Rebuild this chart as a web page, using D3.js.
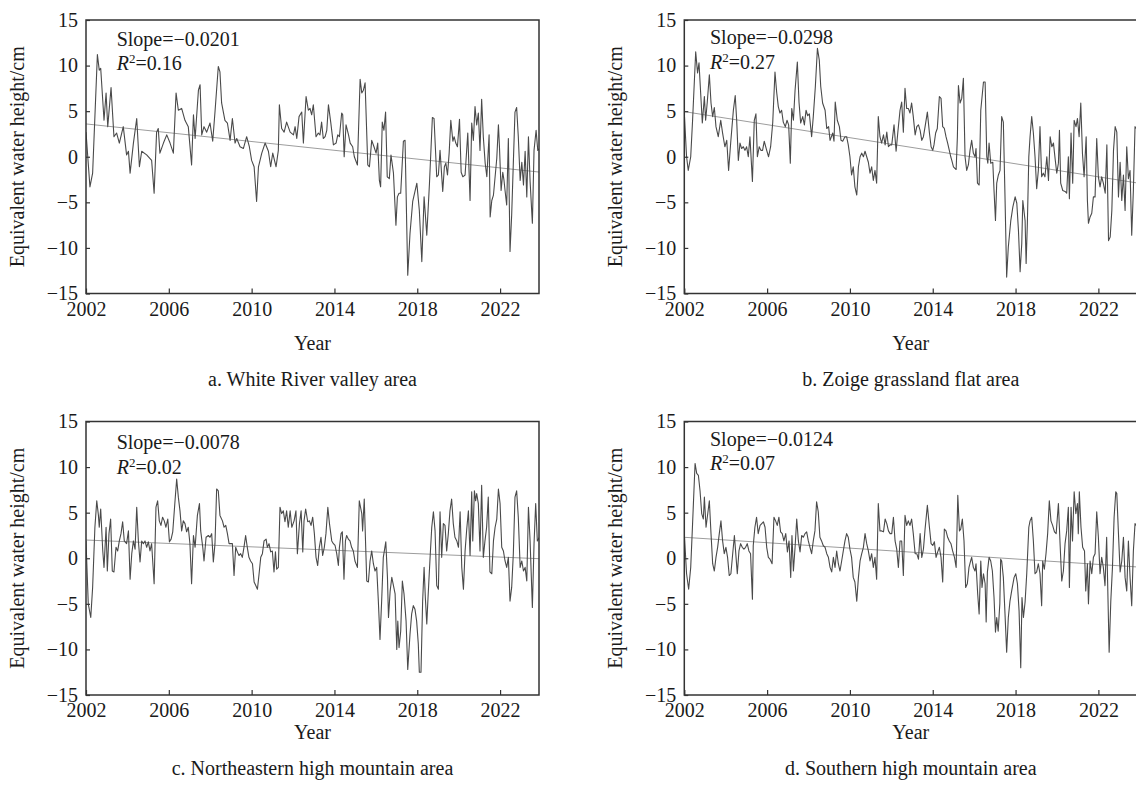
<!DOCTYPE html>
<html>
<head>
<meta charset="utf-8">
<script src="https://cdn.jsdelivr.net/npm/d3@7"></script>
<style>
  body { margin: 0; background: #fff; }
  text { font-family: "Liberation Serif", "Times New Roman", serif; fill: #1a1a1a; }
</style>
</head>
<body>
<svg id="chart" width="1136" height="787"></svg>
<script>
// Equivalent water height anomalies, [years since Jan 2002, cm]
const whiteRiverValley = [[0,2.7],[0.19,-3.3],[0.32,-1.8],[0.55,11.2],[0.64,9.5],[0.71,9.7],[0.87,4.0],[0.97,7.0],[1.05,3.3],[1.21,7.6],
[1.35,2.2],[1.48,2.6],[1.61,1.5],[1.8,3.3],[1.96,0.2],[2.05,0.6],[2.13,-1.8],[2.29,1.5],[2.45,4.2],[2.58,-1.1],
[2.69,0.6],[2.93,0.2],[3.17,-0.4],[3.29,-4.0],[3.41,2.7],[3.49,3.1],[3.57,0.4],[3.74,1.5],[3.9,2.4],[4.06,1.5],
[4.22,0.4],[4.35,7.0],[4.46,5.1],[4.62,5.3],[4.78,4.0],[4.94,3.3],[5.1,-0.9],[5.19,4.6],[5.27,2.0],[5.43,7.3],
[5.51,7.9],[5.59,2.4],[5.7,3.3],[5.83,2.7],[5.99,3.7],[6.12,1.7],[6.23,4.9],[6.39,9.9],[6.47,9.3],[6.55,5.9],
[6.71,4.0],[6.83,3.7],[6.96,1.8],[7.07,4.2],[7.2,1.5],[7.28,2.0],[7.44,1.1],[7.6,0.9],[7.76,2.2],[7.89,1.1],
[8,-0.4],[8.12,-1.1],[8.24,-4.9],[8.33,-1.1],[8.49,0.4],[8.65,1.5],[8.81,0.6],[8.92,-1.1],[9.02,0.4],[9.18,-1.1],
[9.29,0.7],[9.34,5.7],[9.45,3.1],[9.57,2.7],[9.69,3.8],[9.86,2.7],[10.02,2.4],[10.1,3.3],[10.18,2.0],[10.29,4.4],
[10.42,4.9],[10.5,1.5],[10.63,6.6],[10.74,5.1],[10.82,5.3],[10.9,4.6],[10.98,5.7],[11.11,2.2],[11.22,2.6],[11.3,2.4],
[11.38,3.8],[11.46,2.0],[11.55,2.2],[11.63,2.9],[11.71,5.7],[11.82,3.8],[11.95,1.3],[12.08,1.5],[12.16,2.4],[12.24,2.2],
[12.35,4.8],[12.4,4.6],[12.47,0.0],[12.56,3.5],[12.68,2.4],[12.76,1.5],[12.88,1.1],[12.96,0.0],[13.11,-0.9],[13.24,8.5],
[13.32,7.0],[13.4,7.3],[13.48,8.1],[13.61,-0.9],[13.69,-1.1],[13.8,1.8],[13.91,1.1],[14.01,0.4],[14.09,1.5],[14.17,-2.6],
[14.23,-3.3],[14.31,3.8],[14.39,2.9],[14.47,4.9],[14.55,-2.2],[14.65,-2.4],[14.73,0.2],[14.85,-1.8],[14.97,-7.5],[15.04,-4.4],
[15.12,-4.0],[15.2,-4.0],[15.33,1.7],[15.41,1.8],[15.54,-13.0],[15.65,-8.4],[15.78,-4.9],[15.98,-2.9],[16.1,-5.9],[16.22,-11.5],
[16.33,-4.4],[16.46,-8.6],[16.59,-2.9],[16.73,4.3],[16.81,4.2],[16.94,-2.2],[17.02,-2.0],[17.1,0.7],[17.23,-3.8],[17.31,-1.1],
[17.38,-0.7],[17.46,-2.0],[17.54,0.4],[17.62,4.0],[17.72,1.7],[17.78,2.2],[17.86,1.5],[17.94,1.1],[18.04,4.1],[18.12,-1.7],
[18.2,-2.2],[18.31,-2.0],[18.44,2.6],[18.55,-4.8],[18.63,3.7],[18.71,1.8],[18.79,5.5],[18.87,3.5],[18.95,4.8],[19.03,0.7],
[19.11,6.3],[19.19,2.2],[19.28,-0.7],[19.36,-2.2],[19.47,2.4],[19.52,-6.6],[19.6,-4.8],[19.68,-4.2],[19.76,-2.2],[19.84,-0.2],
[19.92,3.5],[19.97,1.1],[20.05,-3.7],[20.13,-1.7],[20.19,-2.6],[20.24,-3.7],[20.32,-5.3],[20.4,2.0],[20.48,-10.4],[20.56,-6.4],
[20.64,-0.7],[20.72,4.9],[20.8,5.4],[20.88,2.2],[20.97,-2.6],[21.05,-0.6],[21.13,-3.1],[21.21,0.6],[21.29,-4.4],[21.37,2.2],
[21.45,-2.7],[21.56,-7.3],[21.64,0.7],[21.74,2.9],[21.82,0.7],[21.9,0.9]];

const zoigeGrassland = [[0,4.8],[0.11,0.0],[0.19,-1.5],[0.31,0.0],[0.4,4.0],[0.55,11.5],[0.64,9.2],[0.71,10.3],[0.79,7.0],[0.87,3.7],
[0.97,6.6],[1.03,4.0],[1.11,6.0],[1.21,9.0],[1.29,5.9],[1.37,4.4],[1.45,5.4],[1.53,3.3],[1.64,2.2],[1.76,4.0],
[1.85,2.6],[1.96,1.1],[2.05,1.8],[2.14,-1.5],[2.24,1.5],[2.37,5.1],[2.46,6.7],[2.53,4.0],[2.61,-0.4],[2.69,1.5],
[2.77,0.9],[2.85,1.1],[2.93,0.7],[3.01,1.1],[3.09,0.0],[3.17,2.2],[3.29,-2.7],[3.38,4.0],[3.46,4.7],[3.53,0.0],
[3.62,1.1],[3.7,0.7],[3.78,0.7],[3.86,1.7],[3.98,0.7],[4.07,0.0],[4.17,1.1],[4.27,3.7],[4.38,9.3],[4.46,7.1],
[4.54,5.5],[4.62,4.8],[4.7,5.1],[4.78,3.8],[4.88,3.3],[4.96,4.0],[5.04,3.5],[5.12,-0.7],[5.19,5.3],[5.27,4.0],
[5.35,7.3],[5.46,10.4],[5.54,6.0],[5.62,3.7],[5.72,4.4],[5.8,3.5],[5.88,5.1],[5.96,4.5],[6.04,4.7],[6.15,2.2],
[6.23,4.4],[6.33,7.7],[6.43,11.9],[6.52,10.6],[6.59,7.7],[6.68,5.9],[6.8,5.1],[6.88,3.1],[6.97,3.3],[7.04,1.8],
[7.17,2.6],[7.23,1.7],[7.29,6.0],[7.39,4.0],[7.49,3.3],[7.57,1.8],[7.65,1.7],[7.76,2.2],[7.84,2.2],[7.92,1.3],
[8,0.0],[8.08,-2.0],[8.16,-1.1],[8.24,-3.3],[8.33,-4.2],[8.41,-1.1],[8.49,0.0],[8.57,0.4],[8.65,0.0],[8.73,0.6],
[8.81,0.0],[8.89,-0.6],[8.97,-1.8],[9.05,-1.1],[9.13,-2.6],[9.21,-1.5],[9.29,-2.9],[9.37,4.4],[9.45,2.2],[9.53,1.5],
[9.62,2.4],[9.7,1.3],[9.78,2.7],[9.86,1.1],[9.94,1.3],[10.02,1.3],[10.13,3.5],[10.23,0.6],[10.31,2.6],[10.42,5.1],
[10.5,6.0],[10.58,2.7],[10.66,7.5],[10.74,5.3],[10.82,5.3],[10.9,4.8],[10.98,5.9],[11.06,4.4],[11.15,2.4],[11.23,3.3],
[11.31,3.5],[11.39,2.9],[11.47,1.8],[11.55,2.2],[11.63,3.3],[11.74,4.9],[11.84,2.6],[11.92,1.1],[12,0.7],[12.06,1.3],
[12.14,2.6],[12.22,3.1],[12.32,6.6],[12.4,6.4],[12.48,3.3],[12.56,3.1],[12.64,2.2],[12.72,1.5],[12.8,0.7],[12.87,0.0],
[12.92,-0.4],[13,-1.1],[13.13,-1.4],[13.19,2.2],[13.24,7.8],[13.32,5.9],[13.4,6.4],[13.48,8.6],[13.56,0.0],[13.64,-1.5],
[13.72,-0.9],[13.8,0.7],[13.88,1.8],[13.96,0.4],[14.04,0.0],[14.09,0.9],[14.16,-2.9],[14.24,-3.1],[14.32,5.1],[14.45,8.2],
[14.53,8.2],[14.61,0.0],[14.66,-0.7],[14.72,1.5],[14.8,-0.7],[14.9,-0.6],[14.96,-3.7],[15.03,-7.0],[15.09,-2.9],[15.17,-2.0],
[15.25,-1.5],[15.33,4.4],[15.41,3.8],[15.49,-4.4],[15.57,-13.2],[15.65,-9.9],[15.77,-7.0],[15.87,-5.5],[15.98,-4.4],[16.06,-5.1],
[16.14,-8.1],[16.22,-12.6],[16.3,-9.5],[16.35,-4.8],[16.46,-7.0],[16.51,-11.7],[16.57,-7.3],[16.64,0.0],[16.7,2.2],[16.78,4.4],
[16.86,2.6],[16.94,0.0],[17.02,-3.5],[17.1,-1.5],[17.18,3.3],[17.26,-2.2],[17.34,-1.8],[17.42,-2.2],[17.51,0.0],[17.59,-2.6],
[17.67,2.2],[17.75,1.1],[17.83,1.5],[17.91,-0.2],[17.99,-1.8],[18.07,-0.7],[18.12,2.9],[18.18,-2.9],[18.28,-3.7],[18.39,-3.8],
[18.47,-4.0],[18.55,0.0],[18.6,-4.6],[18.68,2.6],[18.76,-2.9],[18.83,4.0],[18.92,3.3],[18.99,4.2],[19.07,2.2],[19.15,5.9],
[19.23,0.4],[19.31,-2.2],[19.41,2.2],[19.47,-4.8],[19.52,-7.3],[19.6,-6.6],[19.68,-6.2],[19.76,-4.4],[19.84,-4.4],[19.92,2.0],
[20,-2.2],[20.08,-3.3],[20.16,-2.2],[20.24,-2.9],[20.33,-4.0],[20.41,1.3],[20.49,-9.2],[20.57,-8.8],[20.65,-5.9],[20.73,0.7],
[20.81,3.3],[20.89,2.7],[20.97,-4.4],[21.05,-0.6],[21.13,-4.8],[21.21,-2.0],[21.29,-5.9],[21.37,1.1],[21.45,-2.4],[21.53,-1.5],
[21.61,-8.6],[21.69,-3.7],[21.77,3.3],[21.82,3.1]];

const northeastMountain = [[0,1.9],[0.11,-5.0],[0.23,-6.5],[0.32,-3.2],[0.43,3.4],[0.52,6.3],[0.6,4.7],[0.64,3.4],[0.71,5.4],[0.81,0.8],
[0.87,-1.0],[0.97,3.4],[1.03,-1.4],[1.11,2.7],[1.19,4.3],[1.27,-1.4],[1.35,-1.5],[1.45,1.2],[1.53,0.8],[1.61,1.9],
[1.69,2.7],[1.77,4.0],[1.85,1.9],[1.96,1.6],[2.05,3.0],[2.13,-2.3],[2.21,0.5],[2.29,1.9],[2.37,1.0],[2.45,5.6],
[2.53,1.9],[2.61,-0.4],[2.69,1.9],[2.77,1.6],[2.85,1.9],[2.93,1.2],[3.01,1.8],[3.09,0.8],[3.17,1.6],[3.29,-2.8],
[3.38,5.6],[3.46,6.3],[3.54,4.1],[3.62,3.6],[3.7,4.5],[3.78,4.1],[3.86,3.4],[3.95,4.3],[4.03,1.8],[4.11,2.1],
[4.19,2.9],[4.3,6.3],[4.38,8.7],[4.46,6.7],[4.54,5.2],[4.62,3.0],[4.7,4.1],[4.78,3.8],[4.86,2.9],[4.94,3.4],
[5.02,1.6],[5.1,-2.8],[5.19,2.5],[5.27,1.2],[5.38,4.7],[5.48,6.0],[5.54,3.0],[5.64,1.2],[5.7,-0.3],[5.8,2.3],
[5.91,2.5],[5.99,2.3],[6.07,2.7],[6.15,-0.4],[6.23,1.6],[6.31,7.6],[6.39,7.4],[6.47,4.7],[6.59,4.1],[6.67,3.4],
[6.75,3.6],[6.83,2.7],[6.91,1.6],[6.99,1.6],[7.07,1.6],[7.15,-1.9],[7.23,1.2],[7.31,0.7],[7.39,0.3],[7.47,0.5],
[7.55,0.1],[7.63,1.2],[7.71,2.5],[7.79,1.2],[7.87,0.1],[7.95,-0.3],[8.04,-0.6],[8.12,-2.6],[8.2,-3.0],[8.28,-3.4],
[8.36,-1.7],[8.44,0.1],[8.52,0.5],[8.6,1.9],[8.7,2.1],[8.76,1.2],[8.84,1.6],[8.92,0.7],[9,0.8],[9.08,-1.5],
[9.15,0.7],[9.21,-1.2],[9.29,-1.0],[9.37,5.6],[9.45,4.9],[9.53,5.2],[9.61,4.0],[9.69,5.2],[9.77,3.4],[9.86,5.2],
[9.94,3.4],[10.05,4.1],[10.14,5.2],[10.21,0.5],[10.31,3.8],[10.39,5.2],[10.47,0.7],[10.53,4.1],[10.61,5.4],[10.71,4.0],
[10.79,4.1],[10.87,3.6],[10.95,4.5],[11.03,2.7],[11.11,0.1],[11.19,-0.8],[11.27,1.2],[11.35,2.3],[11.43,0.3],[11.51,1.2],
[11.59,2.7],[11.68,5.6],[11.76,3.8],[11.87,1.9],[11.95,1.6],[12.03,1.4],[12.11,0.5],[12.19,-0.8],[12.24,1.2],[12.32,2.7],
[12.38,2.9],[12.46,-2.3],[12.53,1.9],[12.59,2.5],[12.67,2.1],[12.75,1.9],[12.83,1.2],[12.91,0.8],[12.99,-0.3],[13.11,-1.0],
[13.2,6.3],[13.32,4.9],[13.36,3.0],[13.44,6.5],[13.51,1.2],[13.56,-2.5],[13.64,-2.6],[13.72,-0.3],[13.8,0.8],[13.88,-0.6],
[13.96,-1.4],[14.04,-1.0],[14.12,-4.7],[14.2,-8.9],[14.28,-4.7],[14.36,0.1],[14.48,1.8],[14.56,-2.1],[14.61,-6.5],[14.69,-3.6],
[14.77,-2.1],[14.85,-3.0],[14.93,-3.9],[15.01,-10.0],[15.06,-6.9],[15.12,-9.8],[15.2,-8.0],[15.28,-2.5],[15.36,-3.9],[15.46,-6.9],
[15.54,-12.2],[15.65,-8.3],[15.73,-6.1],[15.81,-5.2],[15.89,-5.6],[15.97,-6.9],[16.05,-9.4],[16.1,-12.5],[16.18,-12.5],[16.26,-4.7],
[16.33,-1.0],[16.39,-4.3],[16.46,-7.2],[16.52,-4.3],[16.62,0.1],[16.7,3.4],[16.78,5.1],[16.86,3.0],[16.94,-3.0],[17.02,-3.4],
[17.1,5.1],[17.18,0.1],[17.26,3.8],[17.34,3.6],[17.42,0.8],[17.5,2.7],[17.58,5.2],[17.66,6.5],[17.74,3.8],[17.82,2.3],
[17.91,1.9],[17.99,1.2],[18.07,5.1],[18.15,-1.0],[18.23,-3.4],[18.31,0.8],[18.39,3.2],[18.47,5.2],[18.55,0.3],[18.63,7.3],
[18.68,1.9],[18.76,7.4],[18.82,6.3],[18.87,7.1],[18.95,6.0],[19.03,0.8],[19.11,8.0],[19.19,0.1],[19.27,1.9],[19.35,3.4],
[19.43,6.7],[19.51,-1.5],[19.6,-1.7],[19.68,1.9],[19.76,3.4],[19.84,4.3],[19.92,7.6],[20,6.0],[20.08,1.2],[20.16,0.8],
[20.24,-0.3],[20.32,-1.0],[20.4,0.1],[20.48,-4.7],[20.56,-3.2],[20.64,0.5],[20.72,6.7],[20.8,7.4],[20.88,4.5],[20.97,-1.0],
[21.05,-0.3],[21.13,-1.4],[21.21,-1.0],[21.29,-2.5],[21.37,5.6],[21.45,1.9],[21.56,-5.4],[21.64,1.6],[21.72,6.0],[21.8,1.9],
[21.9,2.3]];

const southernMountain = [[0,2.7],[0.11,-1.7],[0.21,-3.4],[0.31,-1.0],[0.4,3.8],[0.52,10.4],[0.6,9.3],[0.68,9.1],[0.76,7.4],[0.84,4.9],
[0.92,4.3],[0.97,6.7],[1.05,3.4],[1.11,4.5],[1.21,6.3],[1.29,2.7],[1.37,-0.6],[1.45,-1.4],[1.53,0.1],[1.61,1.2],
[1.69,2.7],[1.77,4.1],[1.85,1.9],[1.93,0.5],[2.01,1.2],[2.09,0.1],[2.17,-1.9],[2.25,-1.7],[2.33,0.3],[2.42,2.5],
[2.5,0.1],[2.56,-1.7],[2.64,0.8],[2.72,1.6],[2.8,1.2],[2.88,1.0],[2.96,1.2],[3.04,1.6],[3.12,0.8],[3.2,0.5],
[3.29,-4.5],[3.33,1.4],[3.41,3.4],[3.49,4.5],[3.57,2.7],[3.66,3.6],[3.74,3.8],[3.82,4.0],[3.9,3.4],[3.98,1.2],
[4.06,0.1],[4.14,-0.1],[4.24,-0.6],[4.33,4.5],[4.41,4.1],[4.49,3.6],[4.57,4.5],[4.65,2.9],[4.73,2.7],[4.81,1.9],
[4.9,2.7],[4.98,0.7],[5.06,1.9],[5.14,-2.1],[5.2,2.5],[5.27,-1.4],[5.35,1.2],[5.43,4.3],[5.51,1.9],[5.59,0.7],
[5.67,2.5],[5.75,2.3],[5.83,2.7],[5.91,2.9],[5.99,1.9],[6.07,1.2],[6.15,0.5],[6.23,1.9],[6.31,3.0],[6.39,6.2],
[6.47,5.1],[6.55,2.3],[6.63,1.9],[6.71,1.4],[6.8,1.2],[6.88,0.5],[6.96,0.1],[7.04,-1.0],[7.12,-1.5],[7.2,0.1],
[7.28,-1.0],[7.36,0.8],[7.44,-0.6],[7.52,-1.4],[7.6,-0.3],[7.68,0.8],[7.76,1.9],[7.84,2.7],[7.92,2.3],[8,1.0],
[8.08,0.1],[8.16,-2.1],[8.24,-2.6],[8.33,-4.7],[8.41,-2.1],[8.49,-0.3],[8.57,0.5],[8.65,1.2],[8.73,2.7],[8.81,1.6],
[8.89,0.8],[8.97,-0.3],[9.05,0.5],[9.13,-1.0],[9.21,0.1],[9.29,-2.3],[9.37,6.0],[9.45,3.0],[9.53,3.0],[9.62,2.9],
[9.7,4.3],[9.78,3.8],[9.86,3.0],[9.94,2.7],[10.02,2.7],[10.1,4.5],[10.18,1.9],[10.26,1.0],[10.34,-1.0],[10.42,1.9],
[10.5,1.9],[10.58,-1.9],[10.66,4.7],[10.74,3.6],[10.82,4.1],[10.9,3.6],[10.98,4.3],[11.06,2.7],[11.15,0.5],[11.23,0.5],
[11.31,-0.1],[11.39,2.7],[11.47,0.1],[11.55,1.0],[11.63,3.2],[11.74,5.8],[11.84,3.4],[11.92,1.6],[12,1.4],[12.08,1.8],
[12.16,0.1],[12.24,0.7],[12.32,1.2],[12.4,0.1],[12.48,-2.6],[12.56,3.2],[12.64,3.0],[12.72,2.3],[12.8,1.9],[12.88,1.6],
[12.96,0.8],[13.05,0.1],[13.13,-1.0],[13.21,6.9],[13.29,3.0],[13.35,3.2],[13.43,4.3],[13.51,1.9],[13.59,-3.2],[13.67,-2.8],
[13.75,-1.0],[13.83,-0.3],[13.88,0.1],[13.96,-1.0],[14.04,-1.4],[14.09,-0.6],[14.17,-3.9],[14.24,-6.1],[14.32,-0.3],[14.38,-3.2],
[14.45,-1.7],[14.53,-2.8],[14.58,-7.0],[14.64,-1.5],[14.72,0.1],[14.8,-0.3],[14.88,-1.4],[14.96,-4.3],[15.03,-8.1],[15.09,-6.5],
[15.16,-8.0],[15.24,-5.0],[15.28,-0.1],[15.33,-0.3],[15.41,-2.1],[15.49,-6.1],[15.57,-10.3],[15.65,-6.5],[15.73,-4.7],[15.81,-3.6],
[15.93,-2.1],[16.01,-1.7],[16.09,-2.8],[16.17,-5.8],[16.25,-12.0],[16.31,-4.3],[16.38,-6.5],[16.46,-4.8],[16.54,-1.7],[16.64,3.4],
[16.7,4.1],[16.78,4.5],[16.86,1.9],[16.94,-1.7],[17.02,-1.5],[17.1,-0.6],[17.18,-1.7],[17.26,-5.2],[17.31,-0.3],[17.39,-1.2],
[17.47,0.5],[17.55,2.7],[17.63,6.3],[17.71,4.1],[17.79,3.6],[17.88,2.9],[17.96,2.7],[18.07,6.0],[18.15,1.6],[18.23,-2.5],
[18.31,-1.4],[18.39,1.6],[18.47,3.0],[18.55,5.6],[18.6,-3.2],[18.68,5.6],[18.75,1.9],[18.83,7.3],[18.91,4.9],[18.99,6.0],
[19.03,2.7],[19.08,7.3],[19.16,3.4],[19.24,1.2],[19.33,0.8],[19.39,-3.6],[19.47,-0.6],[19.52,-5.0],[19.6,-0.3],[19.68,-1.7],
[19.76,0.1],[19.84,0.5],[19.92,5.1],[20,2.3],[20.08,-1.7],[20.16,0.1],[20.24,-1.0],[20.32,-3.0],[20.4,2.3],[20.52,-10.3],
[20.6,-4.7],[20.68,-1.0],[20.76,4.5],[20.84,7.3],[20.89,7.1],[20.97,2.7],[21.05,-1.5],[21.13,-0.3],[21.21,2.3],[21.29,-2.1],
[21.37,-3.6],[21.45,1.9],[21.53,-2.1],[21.61,-5.2],[21.69,0.8],[21.77,3.8],[21.82,3.6]];

// Panel labels and fitted linear trends (slope in cm per month)
const captions = ["a. White River valley area", "b. Zoige grassland flat area",
                  "c. Northeastern high mountain area", "d. Southern high mountain area"];
const slopeLabels = ["\u22120.0201", "\u22120.0298", "\u22120.0078", "\u22120.0124"];
const slopes = [-0.0201, -0.0298, -0.0078, -0.0124];
const r2Labels = ["0.16", "0.27", "0.02", "0.07"];
const trendAtStart = [3.6, 4.95, 2.0, 2.3];   // fitted value in Jan 2002, cm
const xTickYears = [2002, 2006, 2010, 2014, 2018, 2022];
const yTickValues = [-15, -10, -5, 0, 5, 10, 15];

const baseYear = 2002;
const spanYears = 21.88;
const seriesList = [whiteRiverValley, zoigeGrassland, northeastMountain, southernMountain];

const svg = d3.select("#chart");
svg.append("rect").attr("width", 1136).attr("height", 787).attr("fill", "#fff");

const plotW = 453, plotH = 273.5;
// upper row has more room below the axis than the lower row
const layout = [
  { left: 86,    top: 20,    noteX: 30.7, noteY: 25.5, titleX: 24,    yearDy: 56, capDy: 92 },
  { left: 684.3, top: 20,    noteX: 25.7, noteY: 24,   titleX: 622.3, yearDy: 56, capDy: 92 },
  { left: 86,    top: 421.5, noteX: 30.7, noteY: 27.5, titleX: 24,    yearDy: 44, capDy: 80 },
  { left: 684.3, top: 421.5, noteX: 25.7, noteY: 24,   titleX: 622.3, yearDy: 44, capDy: 80 }
];
const fontSize = 20;

seriesList.forEach((series, i) => {
  const L = layout[i];
  const x = d3.scaleLinear().domain([0, spanYears]).range([0, plotW]);
  const y = d3.scaleLinear().domain([-15, 15]).range([plotH, 0]);
  const g = svg.append("g").attr("transform", `translate(${L.left},${L.top})`);

  const clipId = "clip" + i;
  g.append("clipPath").attr("id", clipId)
    .append("rect").attr("width", plotW).attr("height", plotH);

  const plot = g.append("g").attr("clip-path", `url(#${clipId})`);

  // trend line
  const trend = [0, spanYears].map(t => [t, trendAtStart[i] + slopes[i] * 12 * t]);
  plot.append("path").datum(trend)
    .attr("d", d3.line().x(d => x(d[0])).y(d => y(d[1])))
    .attr("fill", "none").attr("stroke", "#9d9d9d").attr("stroke-width", 1);

  // monthly series
  plot.append("path").datum(series)
    .attr("d", d3.line().x(d => x(d[0])).y(d => y(d[1])))
    .attr("fill", "none").attr("stroke", "#4a4a4a").attr("stroke-width", 1.1)
    .attr("stroke-linejoin", "round");

  // axes with inward ticks
  const xAxis = d3.axisBottom(x)
    .tickValues(xTickYears.map(yr => yr - baseYear))
    .tickFormat(t => String(baseYear + t))
    .tickSize(-5).tickPadding(8);
  const gx = g.append("g").attr("transform", `translate(0,${plotH})`).call(xAxis);

  const yAxis = d3.axisLeft(y).tickValues(yTickValues).tickSize(-4).tickPadding(8);
  const gy = g.append("g").call(yAxis);

  [gx, gy].forEach(ax => {
    ax.select(".domain").remove();
    ax.selectAll(".tick line").attr("stroke", "#333").attr("stroke-width", 1.2);
    ax.selectAll(".tick text").attr("font-size", fontSize)
      .attr("font-family", "Liberation Serif, Times New Roman, serif").attr("fill", "#1a1a1a");
  });

  // frame
  g.append("rect").attr("width", plotW).attr("height", plotH)
    .attr("fill", "none").attr("stroke", "#333").attr("stroke-width", 1.5);

  // slope and R² notes
  g.append("text").attr("x", L.noteX).attr("y", L.noteY).attr("font-size", fontSize)
    .text("Slope=" + slopeLabels[i]);
  const r2 = g.append("text").attr("x", L.noteX).attr("y", L.noteY + 24.5).attr("font-size", fontSize);
  r2.append("tspan").attr("font-style", "italic").text("R");
  r2.append("tspan").attr("font-size", 13).attr("dy", -7).text("2");
  r2.append("tspan").attr("dy", 7).text("=" + r2Labels[i]);

  // axis titles and caption
  svg.append("text")
    .attr("transform", `translate(${L.titleX},${L.top + plotH / 2}) rotate(-90)`)
    .attr("text-anchor", "middle").attr("font-size", fontSize)
    .text("Equivalent water height/cm");
  g.append("text").attr("x", plotW / 2).attr("y", plotH + L.yearDy)
    .attr("text-anchor", "middle").attr("font-size", fontSize).text("Year");
  g.append("text").attr("x", plotW / 2).attr("y", plotH + L.capDy)
    .attr("text-anchor", "middle").attr("font-size", fontSize).text(captions[i]);
});
</script>
</body>
</html>
